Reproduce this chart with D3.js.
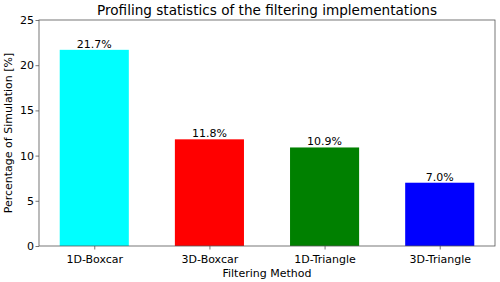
<!DOCTYPE html>
<html>
  <head>
    <style>
      body, html { margin: 0; padding: 0; background: #fff; }
      * { font-family: "DejaVu Sans", sans-serif; }
    </style>
    <script src="https://d3js.org/d3.v7.min.js"></script>
    <title>profiling</title>
  </head>
  <body>
    <svg id="chart" width="500" height="282"></svg>
    <script>
      var methods = ["1D-Boxcar", "3D-Boxcar", "1D-Triangle", "3D-Triangle"];
      var percents = [21.7, 11.8, 10.9, 7.0];
      var barColors = ["#00ffff", "#ff0000", "#008000", "#0000ff"];
      var yTicks = [0, 5, 10, 15, 20, 25];

      var svg = d3.select("#chart");
      var plotLeft = 39, plotRight = 495, plotTop = 20, plotBottom = 246;
      var barWidth = 0.6;
      var fs = "11px";

      var xScale = d3.scaleLinear().domain([-0.48, 3.48]).range([plotLeft, plotRight]);
      var yScale = d3.scaleLinear().domain([0, 25]).range([plotBottom, plotTop]);

      var g = svg.append("g");

      g.selectAll("rect")
        .data(percents)
        .enter()
        .append("rect")
        .attr("x", function (d, i) { return xScale(i - barWidth / 2); })
        .attr("width", function (d, i) { return xScale(i + barWidth / 2) - xScale(i - barWidth / 2); })
        .attr("y", function (d) { return yScale(d); })
        .attr("height", function (d) { return plotBottom - yScale(d); })
        .style("fill", function (d, i) { return barColors[i]; });

      g.selectAll(".bar-label")
        .data(percents)
        .enter()
        .append("text")
        .attr("class", "bar-label")
        .attr("x", function (d, i) { return xScale(i); })
        .attr("y", function (d) { return yScale(d) - 2; })
        .attr("text-anchor", "middle")
        .style("font-size", fs)
        .style("fill", "#000")
        .text(function (d) { return d.toFixed(1) + "%"; });

      // frame
      g.append("rect")
        .attr("x", plotLeft).attr("y", plotTop)
        .attr("width", plotRight - plotLeft).attr("height", plotBottom - plotTop)
        .style("fill", "none")
        .style("stroke", "#555")
        .style("stroke-width", "0.8px");

      var xAxis = d3.axisBottom(xScale)
        .tickValues(d3.range(methods.length))
        .tickFormat(function (i) { return methods[i]; })
        .tickSize(3.5)
        .tickSizeOuter(0);
      var yAxis = d3.axisLeft(yScale)
        .tickValues(yTicks)
        .tickSize(3.5)
        .tickSizeOuter(0);

      var xg = g.append("g").attr("transform", "translate(0," + plotBottom + ")").call(xAxis);
      var yg = g.append("g").attr("transform", "translate(" + plotLeft + ",0)").call(yAxis);
      [xg, yg].forEach(function (a) {
        a.select(".domain").remove();
        a.selectAll("line").style("stroke", "#555").style("stroke-width", "0.8px");
        a.selectAll("text").style("font-size", fs).style("fill", "#000").style("font-family", "DejaVu Sans");
      });
      xg.selectAll("text").attr("dy", "0.95em");
      yg.selectAll("text").attr("x", -5);

      svg.append("text")
        .attr("x", (plotLeft + plotRight) / 2)
        .attr("y", 15)
        .attr("text-anchor", "middle")
        .style("font-size", "13.6px")
        .text("Profiling statistics of the filtering implementations");

      svg.append("text")
        .attr("x", (plotLeft + plotRight) / 2)
        .attr("y", 277)
        .attr("text-anchor", "middle")
        .style("font-size", fs)
        .text("Filtering Method");

      svg.append("text")
        .attr("transform", "translate(12," + (plotTop + plotBottom) / 2 + ") rotate(-90)")
        .attr("text-anchor", "middle")
        .style("font-size", fs)
        .text("Percentage of Simulation [%]");
    </script>
  </body>
</html>
